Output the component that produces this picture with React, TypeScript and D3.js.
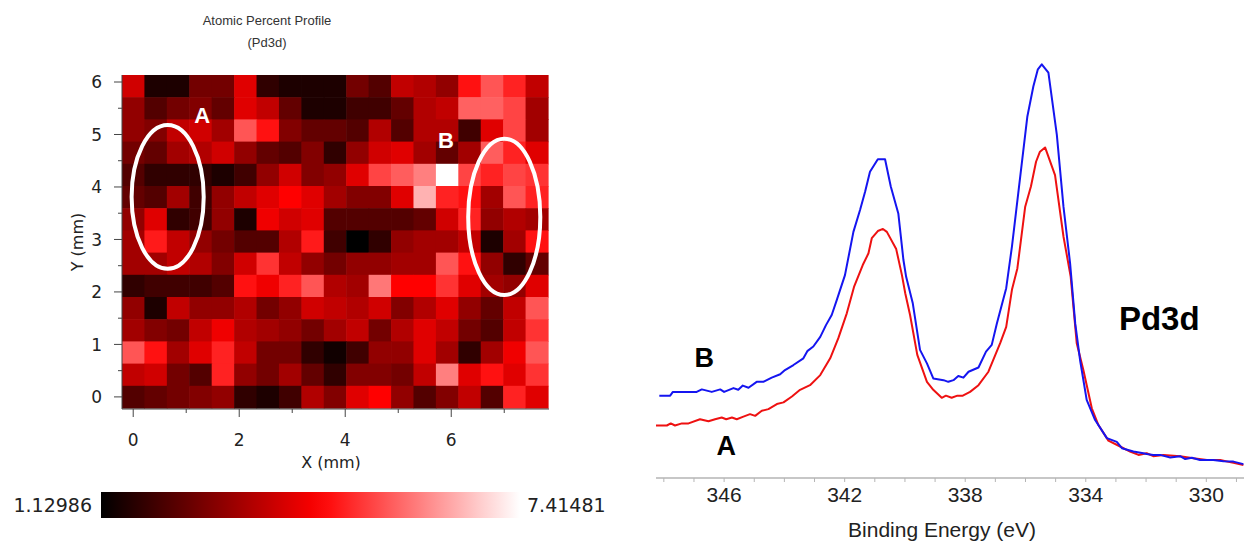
import React from 'react';
import * as d3 from 'd3';

const W = 1244;
const H = 542;

// Pd3d atomic percent map, rows from the top (Y ~ 5.9 mm) down to Y = 0, 19 points along X
const pd3dGrid: number[][] = [
  [3.8, 1.5, 1.5, 2.6, 2.6, 4.0, 1.75, 1.5, 1.5, 1.5, 2.6, 2.2, 3.6, 3.4, 3.0, 4.6, 5.4, 4.8, 3.6],
  [3.0, 2.2, 2.6, 2.8, 2.4, 4.0, 3.6, 2.4, 1.5, 1.5, 1.95, 1.95, 2.4, 3.4, 3.6, 5.55, 5.55, 5.2, 3.2],
  [3.0, 2.8, 3.6, 3.8, 3.2, 5.4, 4.6, 2.8, 2.4, 2.4, 2.2, 3.4, 2.2, 3.4, 3.4, 1.95, 4.0, 5.2, 3.2],
  [2.6, 2.4, 3.2, 3.4, 3.8, 3.0, 2.4, 2.2, 2.8, 1.75, 3.0, 3.8, 4.0, 3.2, 2.4, 3.2, 5.5, 4.8, 4.0],
  [2.2, 1.75, 1.75, 1.75, 1.5, 1.95, 3.0, 3.8, 2.8, 3.0, 4.0, 5.2, 5.5, 5.9, 7.41, 5.2, 4.8, 5.2, 5.0],
  [2.4, 2.2, 3.2, 1.95, 3.0, 3.6, 4.0, 4.4, 4.0, 3.2, 2.8, 2.8, 4.0, 6.5, 4.8, 4.6, 3.2, 5.4, 4.8],
  [3.0, 4.0, 1.75, 1.95, 3.0, 1.5, 4.2, 3.8, 4.0, 2.2, 2.2, 2.2, 2.2, 2.4, 3.8, 4.8, 3.0, 3.4, 3.2],
  [3.2, 4.7, 3.6, 3.0, 2.6, 2.2, 2.2, 3.4, 4.7, 1.95, 1.13, 1.75, 3.0, 3.2, 3.2, 3.6, 1.5, 3.2, 4.6],
  [3.2, 3.2, 3.6, 3.4, 2.8, 3.8, 5.0, 3.6, 3.0, 2.6, 3.0, 3.0, 3.2, 3.2, 5.4, 4.6, 3.0, 1.75, 2.4],
  [1.75, 1.95, 1.95, 1.95, 2.2, 4.6, 4.2, 4.8, 5.4, 3.4, 3.2, 5.8, 4.4, 4.4, 5.0, 4.0, 3.2, 3.0, 4.0],
  [3.0, 1.5, 3.6, 3.0, 3.0, 3.4, 2.6, 3.0, 3.8, 3.6, 3.4, 3.8, 2.8, 3.4, 4.0, 3.0, 2.4, 3.6, 5.4],
  [3.2, 2.8, 2.6, 3.6, 4.2, 3.4, 3.2, 3.0, 2.6, 3.2, 3.6, 2.6, 3.4, 4.0, 3.6, 2.6, 2.2, 3.6, 5.0],
  [5.4, 4.6, 3.2, 4.0, 4.8, 3.6, 2.6, 2.6, 1.75, 1.35, 1.95, 3.0, 3.0, 4.0, 3.2, 1.75, 3.2, 4.2, 5.4],
  [3.6, 3.8, 2.6, 2.2, 4.8, 3.0, 2.6, 3.2, 2.4, 1.75, 2.8, 2.8, 2.6, 3.6, 5.9, 4.0, 4.6, 4.0, 5.0],
  [2.2, 2.4, 2.6, 2.8, 3.0, 1.75, 1.5, 1.95, 3.4, 2.8, 4.0, 4.4, 3.0, 2.2, 2.8, 3.6, 2.2, 4.8, 4.0],
];
const gridStep = 0.423; // mm between map points
const colorMin = 1.12986;
const colorMax = 7.41481;
const mapXTicks = [0, 1, 2, 3, 4, 5, 6, 7];
const mapYTicks = [0, 0.5, 1, 1.5, 2, 2.5, 3, 3.5, 4, 4.5, 5, 5.5, 6];

// regions circled on the map (mm)
const regions = [
  { name: 'A', cx: 0.65, cy: 3.81, rx: 0.68, ry: 1.37, lx: 1.3, ly: 5.37 },
  { name: 'B', cx: 7.0, cy: 3.43, rx: 0.68, ry: 1.49, lx: 5.9, ly: 4.89 },
];

// Pd3d spectra (binding energy eV, intensity a.u.)
const energyB = [348.15, 347.79, 347.7, 346.91, 346.74, 346.41, 346.13, 346.0, 345.69, 345.53, 345.38, 345.19, 344.92, 344.7, 344.42, 344.14, 343.98, 343.7, 343.37, 343.24, 343.04, 342.81, 342.62, 342.43, 342.26, 341.99, 341.71, 341.49, 341.32, 341.16, 340.9, 340.66, 340.47, 340.22, 340.05, 339.96, 339.74, 339.5, 339.27, 339.06, 338.72, 338.56, 338.39, 338.23, 338.06, 337.89, 337.56, 337.31, 337.12, 336.95, 336.64, 336.45, 336.24, 335.94, 335.74, 335.59, 335.46, 335.24, 334.96, 334.74, 334.52, 334.35, 334.19, 333.97, 333.69, 333.3, 332.97, 332.8, 332.42, 332.09, 331.98, 331.76, 331.53, 331.2, 330.87, 330.7, 330.48, 330.21, 329.77, 329.43, 329.1, 328.77];
const countsB = [19.6, 19.6, 20.5, 20.5, 21.1, 20.5, 21.1, 20.5, 21.4, 21.0, 22.0, 21.5, 22.9, 22.9, 23.9, 24.7, 25.7, 26.9, 28.5, 30.2, 31.3, 33.6, 36.4, 38.8, 42.4, 48.3, 58.6, 63.8, 68.2, 72.9, 75.9, 75.9, 69.4, 63.0, 51.9, 47.9, 41.6, 30.5, 27.3, 23.7, 23.3, 22.9, 23.3, 24.3, 23.9, 25.3, 26.3, 30.1, 31.7, 36.8, 45.2, 55.1, 67.8, 86.0, 93.2, 97.3, 98.5, 96.5, 81.7, 64.6, 51.1, 36.8, 28.1, 18.6, 13.8, 9.5, 8.6, 7.1, 6.3, 5.9, 5.7, 5.5, 5.5, 4.9, 5.2, 4.5, 4.8, 4.3, 4.3, 4.0, 3.9, 3.3];
const energyA = [348.26, 347.9, 347.77, 347.63, 347.4, 347.18, 346.8, 346.52, 346.3, 346.08, 345.93, 345.74, 345.58, 345.36, 345.14, 344.97, 344.75, 344.53, 344.25, 344.03, 343.75, 343.48, 343.15, 342.81, 342.48, 342.21, 341.93, 341.69, 341.4, 341.21, 341.1, 340.9, 340.73, 340.6, 340.29, 340.1, 339.99, 339.83, 339.59, 339.27, 339.06, 338.78, 338.64, 338.45, 338.26, 338.08, 337.84, 337.56, 337.23, 336.84, 336.64, 336.45, 336.27, 336.01, 335.82, 335.65, 335.52, 335.35, 335.02, 334.74, 334.5, 334.3, 334.08, 333.8, 333.58, 333.25, 332.86, 332.53, 332.25, 331.98, 331.76, 331.42, 330.87, 330.43, 329.98, 329.54, 329.1, 328.77];
const countsA = [12.5, 12.5, 13.0, 12.5, 13.0, 13.0, 14.0, 13.5, 14.0, 14.4, 14.0, 14.4, 14.0, 14.6, 15.2, 14.8, 16.0, 16.4, 17.6, 18.0, 19.4, 21.0, 22.1, 24.5, 28.5, 33.3, 39.2, 45.5, 50.7, 53.5, 57.1, 58.8, 59.3, 58.6, 54.5, 48.3, 44.0, 38.8, 29.3, 22.9, 21.0, 19.1, 19.6, 19.1, 19.6, 19.6, 20.5, 22.1, 25.3, 32.1, 36.0, 44.8, 49.9, 64.6, 69.4, 75.3, 77.7, 78.7, 72.1, 57.5, 47.9, 32.1, 25.7, 16.6, 12.6, 8.9, 7.5, 6.3, 5.5, 5.9, 5.2, 5.5, 5.2, 4.7, 4.3, 4.3, 3.6, 3.1];
const energyTicks = d3.range(329, 349);
const energyLabels = [346, 342, 338, 334, 330];

const mapFont = 'DejaVu Sans, Verdana, sans-serif';
const specFont = 'Liberation Sans, Arial, sans-serif';

export default function App() {
  const nRows = pd3dGrid.length;
  const nCols = pd3dGrid[0].length;

  const xMap = d3.scaleLinear().domain([-gridStep / 2, (nCols - 0.5) * gridStep]).range([122, 548]);
  const yMap = d3.scaleLinear().domain([-gridStep / 2, (nRows - 0.5) * gridStep]).range([408, 75]);
  const color = d3
    .scaleLinear<string>()
    .domain([colorMin, colorMin + 0.52 * (colorMax - colorMin), colorMax])
    .range(['#000000', '#ff0000', '#ffffff'])
    .clamp(true);

  const cellW = xMap(gridStep) - xMap(0);
  const cellH = yMap(0) - yMap(gridStep);

  const xSpec = d3.scaleLinear().domain([348.26, 328.75]).range([656, 1244]);
  const ySpec = d3.scaleLinear().domain([0, 100]).range([478, 58]);
  const line = d3
    .line<[number, number]>()
    .x((d) => xSpec(d[0]))
    .y((d) => ySpec(d[1]));
  const pathA = line(energyA.map((e, i) => [e, countsA[i]]));
  const pathB = line(energyB.map((e, i) => [e, countsB[i]]));

  const barX = d3.scaleLinear().domain([colorMin, colorMax]).range([101, 520]);
  const gradStops = d3.range(0, 1.0001, 0.05).map((t) => colorMin + t * (colorMax - colorMin));

  const axisY = yMap(-gridStep / 2) + 1;

  return (
    <svg width={W} height={H} style={{ position: 'absolute', left: 0, top: 0, background: '#fff' }}>
      <defs>
        <linearGradient id="cbar" x1="0" x2="1" y1="0" y2="0">
          {gradStops.map((v, i) => (
            <stop key={i} offset={(v - colorMin) / (colorMax - colorMin)} stopColor={color(v)} />
          ))}
        </linearGradient>
      </defs>

      {/* map title */}
      <g fontFamily={specFont} fontSize={13} fill="#333" textAnchor="middle">
        <text x={267} y={25}>Atomic Percent Profile</text>
        <text x={267} y={47}>(Pd3d)</text>
      </g>

      {/* heat map cells */}
      <g>
        {pd3dGrid.map((row, r) =>
          row.map((v, c) => {
            const yv = (nRows - 1 - r) * gridStep;
            return (
              <rect
                key={`${r}-${c}`}
                x={xMap(c * gridStep - gridStep / 2)}
                y={yMap(yv + gridStep / 2)}
                width={cellW + 0.6}
                height={cellH + 0.6}
                fill={color(v)}
              />
            );
          })
        )}
      </g>

      {/* circled regions */}
      {regions.map((g) => (
        <g key={g.name}>
          <ellipse
            cx={xMap(g.cx)}
            cy={yMap(g.cy)}
            rx={xMap(g.rx) - xMap(0)}
            ry={yMap(0) - yMap(g.ry)}
            fill="none"
            stroke="#fff"
            strokeWidth={4}
          />
          <text
            x={xMap(g.lx)}
            y={yMap(g.ly)}
            dy="0.36em"
            textAnchor="middle"
            fontFamily={specFont}
            fontWeight="bold"
            fontSize={22}
            fill="#fff"
          >
            {g.name}
          </text>
        </g>
      ))}

      {/* map axes */}
      <g stroke="#444" strokeWidth={1}>
        <line x1={122} x2={122} y1={75} y2={axisY} />
        <line x1={122} x2={549} y1={axisY} y2={axisY} />
        {mapYTicks.map((t) => (
          <line key={`yt${t}`} x1={122 - (t % 1 === 0 ? 8 : 4)} x2={122} y1={yMap(t)} y2={yMap(t)} />
        ))}
        {mapXTicks.map((t) => (
          <line key={`xt${t}`} x1={xMap(t)} x2={xMap(t)} y1={axisY} y2={axisY + (t % 2 === 0 ? 8 : 4)} />
        ))}
      </g>
      <g fontFamily={mapFont} fontSize={17} fill="#222">
        {mapYTicks
          .filter((t) => t % 1 === 0)
          .map((t) => (
            <text key={`yl${t}`} x={102} y={yMap(t)} dy="0.36em" textAnchor="end">
              {t}
            </text>
          ))}
        {mapXTicks
          .filter((t) => t % 2 === 0)
          .map((t) => (
            <text key={`xl${t}`} x={xMap(t)} y={446} textAnchor="middle">
              {t}
            </text>
          ))}
        <text x={331} y={468} textAnchor="middle" fontSize={16}>
          X (mm)
        </text>
        <text transform="translate(77,242) rotate(-90)" textAnchor="middle" dy="0.36em" fontSize={16}>
          Y (mm)
        </text>
      </g>

      {/* colour bar */}
      <rect x={barX(colorMin)} y={492} width={barX(colorMax) - barX(colorMin)} height={26} fill="url(#cbar)" />
      <g fontFamily={mapFont} fontSize={19} fill="#222">
        <text x={barX(colorMin) - 9} y={505} dy="0.36em" textAnchor="end">
          {colorMin}
        </text>
        <text x={barX(colorMax) + 7} y={505} dy="0.36em" textAnchor="start">
          {colorMax}
        </text>
      </g>

      {/* spectra */}
      <path d={pathA ?? ''} fill="none" stroke="#ee1111" strokeWidth={2} strokeLinejoin="round" />
      <path d={pathB ?? ''} fill="none" stroke="#1515f0" strokeWidth={2} strokeLinejoin="round" />

      {/* energy axis */}
      <g stroke="#b5b5b5">
        <line x1={656} x2={1244} y1={478} y2={478} strokeWidth={1.5} />
        {energyTicks.map((t) => (
          <line key={`et${t}`} x1={xSpec(t)} x2={xSpec(t)} y1={478} y2={482} strokeWidth={1} />
        ))}
      </g>
      <g fontFamily={specFont} fill="#222" textAnchor="middle">
        {energyLabels.map((t) => (
          <text key={`el${t}`} x={xSpec(t)} y={502} fontSize={21}>
            {t}
          </text>
        ))}
        <text x={942} y={537} fontSize={21}>
          Binding Energy (eV)
        </text>
      </g>

      {/* spectrum annotations */}
      <g fontFamily={specFont} fontWeight="bold" fill="#000">
        <text x={xSpec(346.66)} y={ySpec(26.4)} fontSize={27} textAnchor="middle">
          B
        </text>
        <text x={xSpec(345.93)} y={ySpec(5.5)} fontSize={27} textAnchor="middle">
          A
        </text>
        <text x={xSpec(332.9)} y={ySpec(35.2)} fontSize={33}>
          Pd3d
        </text>
      </g>
    </svg>
  );
}
